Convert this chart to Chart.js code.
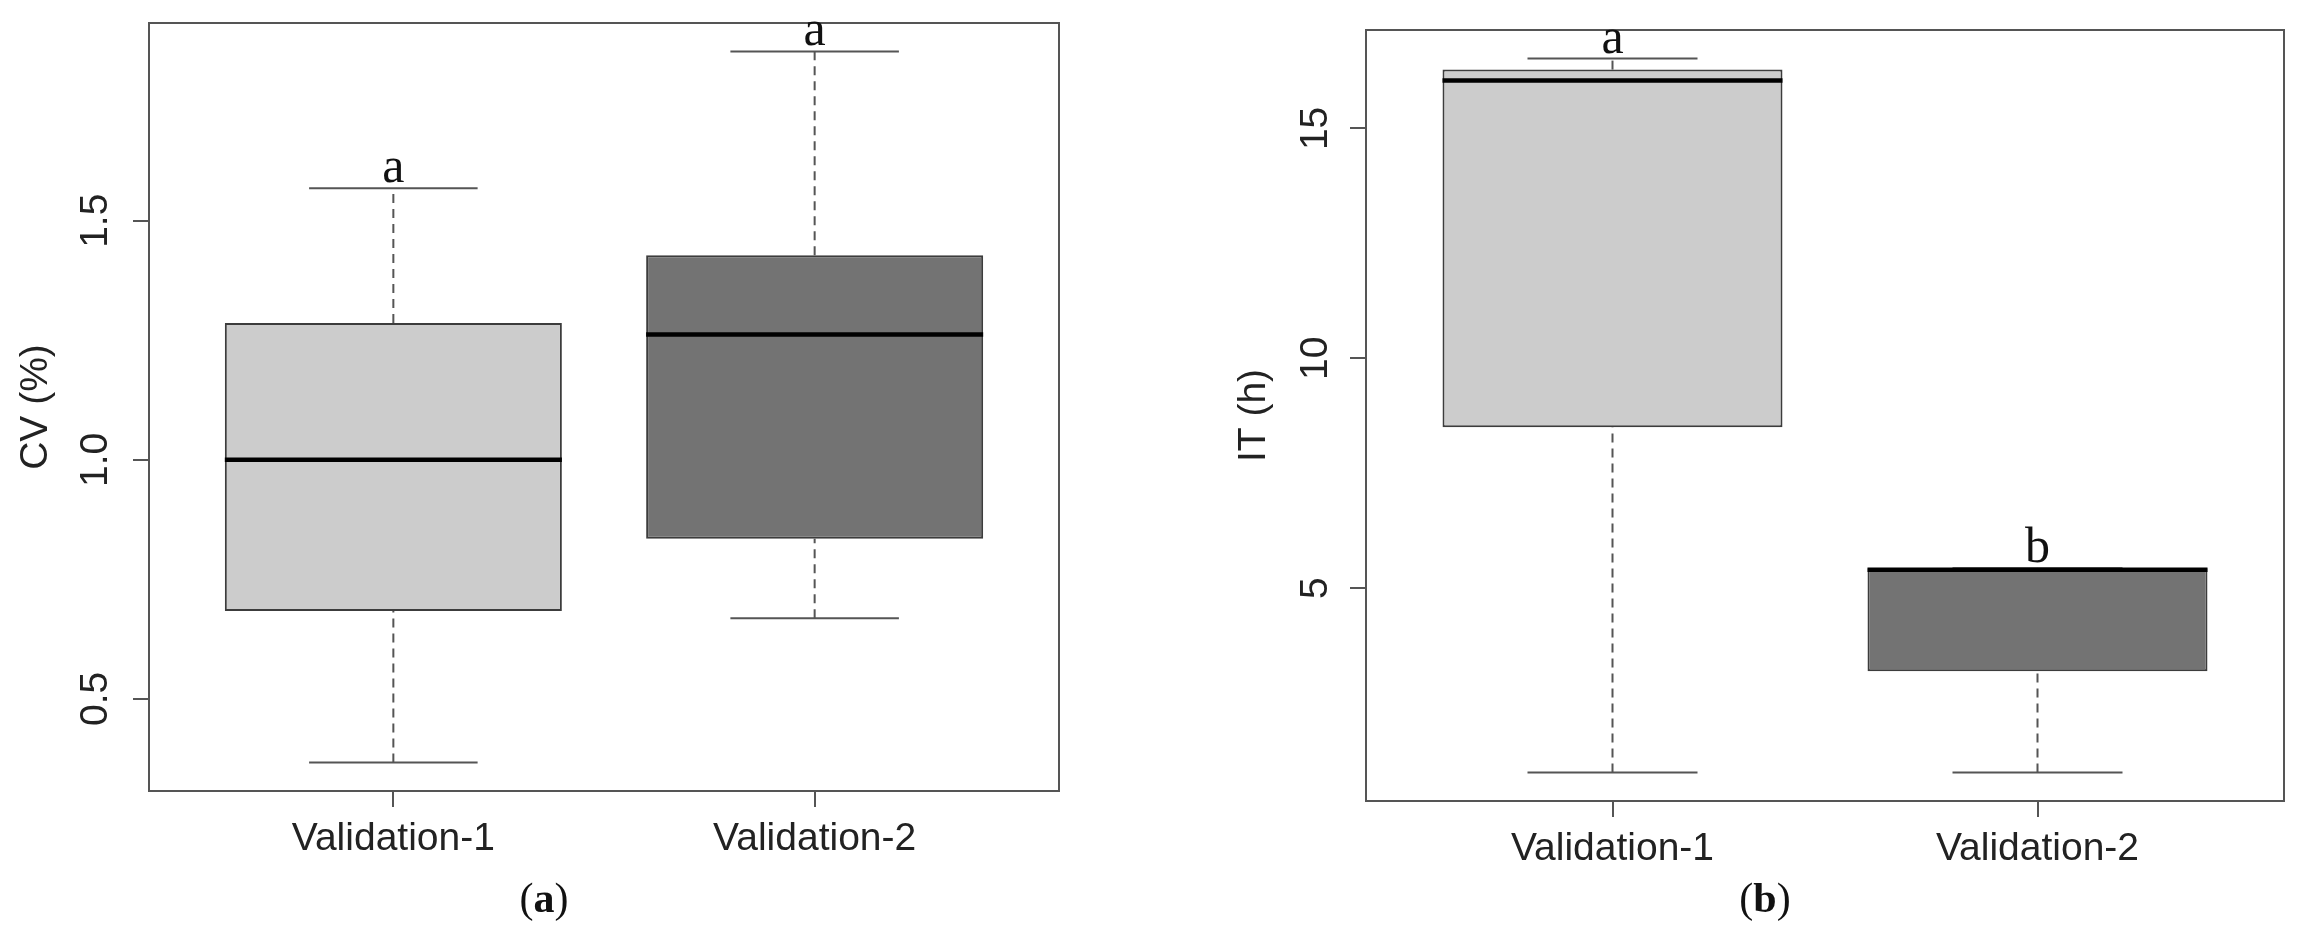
<!DOCTYPE html>
<html>
<head>
<meta charset="utf-8">
<title>CV and IT boxplots</title>
<script src="https://cdn.jsdelivr.net/npm/chart.js@4.4.1/dist/chart.umd.min.js"></script>
<style>
    html, body { margin: 0; padding: 0; background: #fff; }
    #wrap { position: relative; width: 2312px; height: 943px; overflow: hidden; }
    canvas { position: absolute; top: 0; }
    #cvChart { left: 0; }
    #itChart { left: 1160px; }
    .panel-tag {
        position: absolute; top: 877px; width: 120px; text-align: center;
        font-family: 'Liberation Serif', 'Times New Roman', serif;
        font-size: 42px; line-height: 42px; color: #111;
    }
</style>
</head>
<body>
<div id="wrap">
    <canvas id="cvChart" width="1160" height="943"></canvas>
    <canvas id="itChart" width="1152" height="943"></canvas>
    <div class="panel-tag" style="left:484px">(<b>a</b>)</div>
    <div class="panel-tag" style="left:1705px">(<b>b</b>)</div>
</div>
<script>
const categories = ['Validation-1', 'Validation-2'];
const positions = [1, 2];

// panel (a) - CV (%)
const cvLower = [0.367, 0.669];
const cvQ1 = [0.684, 0.835];
const cvMedian = [1.0, 1.262];
const cvQ3 = [1.286, 1.428];
const cvUpper = [1.568, 1.854];
const cvLetters = ['a', 'a'];
const cvTicks = [0.5, 1.0, 1.5];

// panel (b) - IT (h)
const itLower = [0.99, 0.99];
const itQ1 = [8.50, 3.19];
const itMedian = [16.04, 5.40];
const itQ3 = [16.28, 5.43];
const itUpper = [16.52, 5.43];
const itLetters = ['a', 'b'];
const itTicks = [5, 10, 15];

const boxColors = ['#cccccc', '#737373'];
const BOX_WIDTH = 0.8;   // R boxwex
const CAP_WIDTH = 0.4;   // R staplewex * boxwex
const AXIS_COLOR = '#555';
const TEXT_COLOR = '#222';

Chart.defaults.font.family = "'Liberation Sans', Arial, Helvetica, sans-serif";

// frame round the plot + significance letters above the whiskers
const framePlugin = {
    id: 'frame',
    afterDatasetsDraw(chart, args, opts) {
        const { ctx, chartArea: a, scales } = chart;
        ctx.save();
        ctx.strokeStyle = AXIS_COLOR;
        ctx.lineWidth = 2;
        ctx.strokeRect(a.left, a.top, a.right - a.left, a.bottom - a.top);
        ctx.font = "50px 'Liberation Serif', 'Times New Roman', serif";
        ctx.fillStyle = '#111';
        ctx.textAlign = 'center';
        ctx.textBaseline = 'alphabetic';
        opts.letters.forEach((t, i) => {
            const x = scales.x.getPixelForValue(positions[i]);
            const y = scales.y.getPixelForValue(opts.anchors[i]) - 6;
            ctx.fillText(t, x, y);
        });
        ctx.restore();
    }
};

function segment(points, extra, order) {
    return Object.assign({
        type: 'line',
        data: points,
        borderColor: AXIS_COLOR,
        borderWidth: 2,
        pointRadius: 0,
        pointHoverRadius: 0,
        fill: false,
        tension: 0,
        order: order
    }, extra);
}

function makeBoxplot(canvasId, s, lay) {
    const lo = Math.min(...s.lower);
    const hi = Math.max(...s.upper);
    const pad = (hi - lo) * 0.04;
    const xPad = 0.04 * categories.length;

    const datasets = [{
        type: 'bar',
        data: positions.map((x, i) => ({ x: x, y: [s.q1[i], s.q3[i]] })),
        backgroundColor: boxColors,
        borderColor: '#3c3c3c',
        borderWidth: 2,
        borderSkipped: false,
        barPercentage: BOX_WIDTH,
        categoryPercentage: 1,
        order: 2
    }];

    positions.forEach((x, i) => {
        // dashed whiskers
        datasets.push(segment([{ x: x, y: s.q3[i] }, { x: x, y: s.upper[i] }], { borderDash: [9, 6] }, 3));
        datasets.push(segment([{ x: x, y: s.lower[i] }, { x: x, y: s.q1[i] }], { borderDash: [9, 6] }, 3));
        // staples
        datasets.push(segment([{ x: x - CAP_WIDTH / 2, y: s.upper[i] }, { x: x + CAP_WIDTH / 2, y: s.upper[i] }], {}, 3));
        datasets.push(segment([{ x: x - CAP_WIDTH / 2, y: s.lower[i] }, { x: x + CAP_WIDTH / 2, y: s.lower[i] }], {}, 3));
        // median
        datasets.push(segment([{ x: x - BOX_WIDTH / 2, y: s.median[i] }, { x: x + BOX_WIDTH / 2, y: s.median[i] }],
            { borderColor: '#000', borderWidth: 4.5 }, 0));
    });

    return new Chart(document.getElementById(canvasId), {
        type: 'bar',
        data: { datasets: datasets },
        plugins: [framePlugin],
        options: {
            responsive: false,
            animation: false,
            events: [],
            layout: { padding: { left: 0, top: lay.top, right: lay.right, bottom: lay.bottom } },
            plugins: {
                legend: { display: false },
                tooltip: { enabled: false },
                frame: { letters: s.letters, anchors: s.upper }
            },
            scales: {
                x: {
                    type: 'linear',
                    offset: false,
                    min: 0.5 - xPad,
                    max: categories.length + 0.5 + xPad,
                    afterBuildTicks: sc => { sc.ticks = positions.map(v => ({ value: v })); },
                    afterFit: sc => { sc.height = 100; sc.paddingLeft = 0; sc.paddingRight = 0; },
                    grid: { offset: false, drawOnChartArea: false, tickLength: 16, color: AXIS_COLOR, lineWidth: 2 },
                    border: { display: false },
                    ticks: {
                        autoSkip: false,
                        maxRotation: 0,
                        padding: 9,
                        color: TEXT_COLOR,
                        font: { size: 39 },
                        callback: (v, i) => categories[i]
                    }
                },
                y: {
                    type: 'linear',
                    beginAtZero: false,
                    min: lo - pad,
                    max: hi + pad,
                    afterBuildTicks: sc => { sc.ticks = s.ticks.map(v => ({ value: v })); },
                    afterFit: sc => { sc.width = lay.yWidth; sc.paddingTop = 0; sc.paddingBottom = 0; },
                    grid: { drawOnChartArea: false, tickLength: 16, color: AXIS_COLOR, lineWidth: 2 },
                    border: { display: false },
                    ticks: {
                        minRotation: 90,
                        maxRotation: 90,
                        crossAlign: 'center',
                        padding: lay.tickPad,
                        color: TEXT_COLOR,
                        font: { size: 39 },
                        callback: v => s.fmt(v)
                    },
                    title: {
                        display: true,
                        text: s.title,
                        color: TEXT_COLOR,
                        font: { size: 39 },
                        padding: { top: lay.titlePad, bottom: 0 }
                    }
                }
            }
        }
    });
}

document.addEventListener('DOMContentLoaded', () => {
    makeBoxplot('cvChart', {
        lower: cvLower, q1: cvQ1, median: cvMedian, q3: cvQ3, upper: cvUpper,
        letters: cvLetters, ticks: cvTicks, title: 'CV (%)', fmt: v => v.toFixed(1)
    }, { top: 23, right: 101, bottom: 52, yWidth: 149, tickPad: 10, titlePad: 12.6 });

    makeBoxplot('itChart', {
        lower: itLower, q1: itQ1, median: itMedian, q3: itQ3, upper: itUpper,
        letters: itLetters, ticks: itTicks, title: 'IT (h)', fmt: v => String(v)
    }, { top: 30, right: 28, bottom: 42, yWidth: 206, tickPad: 12, titlePad: 70.6 });
});
</script>
</body>
</html>
